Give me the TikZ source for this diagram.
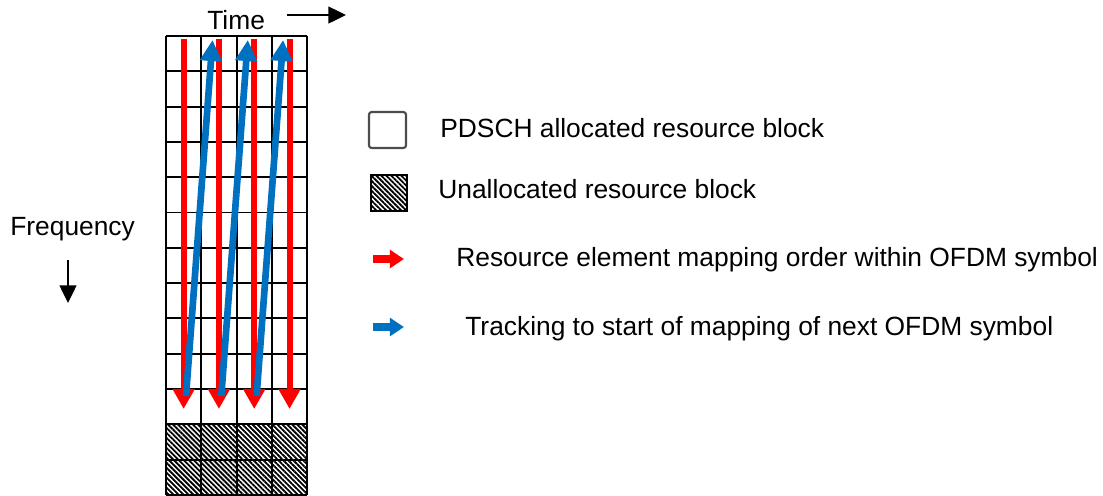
\documentclass[tikz,border=0pt]{standalone}
\usepackage{fontspec}
\setmainfont{Liberation Sans}
\usetikzlibrary{arrows.meta,patterns.meta}
\definecolor{colMapping}{HTML}{FF0000}
\definecolor{colTracking}{HTML}{0070C0}
\colorlet{colLegendBox}{gray!60!black}

\begin{document}
\begin{tikzpicture}[x=0.02cm, y=-0.02cm, font=\fontsize{15}{18}\selectfont,
    cellLine/.style={draw=black, line width=1.1pt},
    hatchFill/.style={pattern={Lines[angle=-45,distance=2pt,line width=1.05pt]}},
    mapArrow/.style={draw=colMapping, line width=3.4pt, -{Triangle[length=11.5pt,width=12pt]}},
    trackArrow/.style={draw=colTracking, line width=3.8pt, -{Triangle[length=12pt,width=12pt]}},
    axisArrow/.style={draw=black, line width=1.2pt, -{Triangle[length=10pt,width=9.5pt]}},
    legendArrow/.style={line width=4.5pt, -{Triangle[length=8pt,width=10pt]}},
    label/.style={anchor=base west, inner sep=0pt}]
    \useasboundingbox (0,0) rectangle (1103,495);

    % Bloques no asignados (abajo)
    \fill[hatchFill] (166,424) rectangle (307.2,494.9);

    % Rejilla de recursos
    \foreach \i in {0,...,4}
        \draw[cellLine] ({166+35.3*\i},36) -- ({166+35.3*\i},494.9);
    \foreach \j in {0,...,13}
        \draw[cellLine] (166,{36+35.3*\j}) -- (307.2,{36+35.3*\j});

    % Orden de mapeo dentro de cada simbolo
    \foreach \i in {0,...,3}
        \draw[mapArrow] ({183.65+35.3*\i},39) -- ({183.65+35.3*\i},409);

    % Salto al siguiente simbolo
    \foreach \i in {0,...,2}
        \draw[trackArrow] ({186+35.3*\i},396) -- ({212.5+35.3*\i},40);

    % Ejes
    \node[label] (time) at (207,29) {Time};
    \draw[axisArrow] (287,15) -- (346,15);
    \node[label] (freq) at (10,235) {Frequency};
    \draw[axisArrow] (68,260) -- (68,303);

    % Leyenda
    \draw[colLegendBox, line width=1.2pt, rounded corners=1.5pt] (369,112) rectangle (406,148);
    \node[label] (legAlloc) at (440,137) {PDSCH allocated resource block};
    \draw[hatchFill, draw=black, line width=1pt] (371,175) rectangle (407,211);
    \node[label] (legFree) at (438,198) {Unallocated resource block};
    \draw[legendArrow, draw=colMapping] (373,259) -- (404,259);
    \node[label] (legMap) at (456,266) {Resource element mapping order within OFDM symbol};
    \draw[legendArrow, draw=colTracking] (373,327) -- (404,327);
    \node[label] (legTrack) at (465,335) {Tracking to start of mapping of next OFDM symbol};
\end{tikzpicture}
\end{document}
